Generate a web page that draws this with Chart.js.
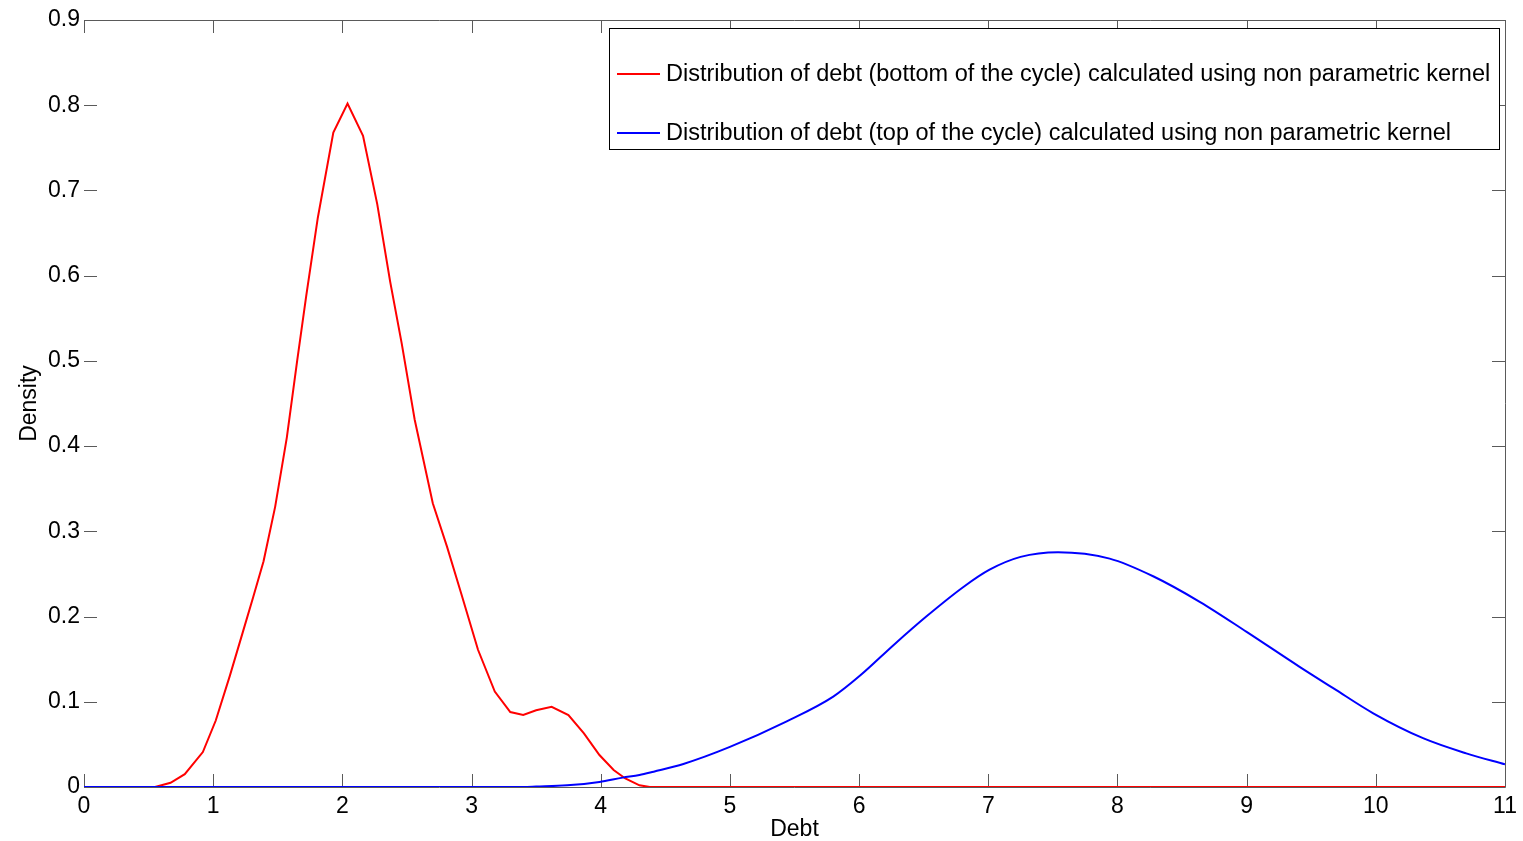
<!DOCTYPE html>
<html>
<head>
<meta charset="utf-8">
<script src="https://cdn.jsdelivr.net/npm/chart.js@4"></script>
<style>
  html, body { margin: 0; padding: 0; background: #fff; }
  canvas { display: block; }
</style>
</head>
<body>
<canvas id="grafico" width="1523" height="841"></canvas>
<script>
// Kernel density estimates of debt, bottom vs top of the cycle
const bottomDebt = [0, 0.55, 0.67, 0.78, 0.92, 1.02, 1.13, 1.23, 1.31, 1.39, 1.48, 1.57, 1.65, 1.72, 1.81, 1.93,
  2.04, 2.16, 2.27, 2.37, 2.46, 2.56, 2.70, 2.81, 2.92, 3.05, 3.18, 3.30, 3.40, 3.50, 3.62, 3.75, 3.87, 3.99,
  4.10, 4.19, 4.30, 4.38, 11];
const bottomDensity = [0, 0, 0.005, 0.015, 0.041, 0.078, 0.131, 0.182, 0.223, 0.265, 0.329, 0.41, 0.50, 0.576, 0.668, 0.768,
  0.802, 0.764, 0.684, 0.593, 0.52, 0.431, 0.333, 0.282, 0.227, 0.161, 0.112, 0.088, 0.0845, 0.090, 0.094, 0.0845, 0.063, 0.0375,
  0.020, 0.010, 0.002, 0, 0];

const topDebt = [0, 3.4, 3.5, 3.74, 3.99, 4.17, 4.30, 4.41, 4.64, 5.0, 5.44, 5.80, 6.01, 6.27, 6.52, 6.81,
  7.01, 7.25, 7.54, 7.94, 8.28, 8.64, 9.0, 9.41, 9.67, 9.98, 10.37, 10.70, 11.0];
const topDensity = [0, 0, 0.0005, 0.002, 0.006, 0.011, 0.014, 0.018, 0.027, 0.047, 0.077, 0.106, 0.131, 0.167, 0.20, 0.235,
  0.255, 0.270, 0.2755, 0.268, 0.247, 0.217, 0.182, 0.141, 0.116, 0.0865, 0.057, 0.0395, 0.0266];

const xTickLabels = ["0", "1", "2", "3", "4", "5", "6", "7", "8", "9", "10", "11"];
const yTickLabels = ["0", "0.1", "0.2", "0.3", "0.4", "0.5", "0.6", "0.7", "0.8", "0.9"];

const seriesNames = [
  "Distribution of debt (bottom of the cycle) calculated using non parametric kernel",
  "Distribution of debt (top of the cycle) calculated using non parametric kernel"
];

const FONTE = "Liberation Sans, Arial, sans-serif";

function pares(xs, ys) {
  return xs.map((x, i) => ({ x: x, y: ys[i] }));
}

// Moldura estilo MATLAB: caixa, ticks para dentro e legenda
const moldura = {
  id: "moldura",
  beforeDatasetsDraw(chart) {
    const { ctx, chartArea: a, scales } = chart;
    const tl = 13;
    ctx.save();
    ctx.strokeStyle = "#5a5a5a";
    ctx.lineWidth = 1;
    ctx.beginPath();
    ctx.moveTo(a.left, a.top + 0.5); ctx.lineTo(a.right + 0.5, a.top + 0.5);
    ctx.moveTo(a.right + 0.5, a.top); ctx.lineTo(a.right + 0.5, a.bottom + 0.5);
    ctx.moveTo(a.left, a.bottom + 0.5); ctx.lineTo(a.right + 0.5, a.bottom + 0.5);
    scales.x.ticks.forEach(t => {
      const px = Math.round(scales.x.getPixelForValue(t.value)) + 0.5;
      ctx.moveTo(px, a.bottom); ctx.lineTo(px, a.bottom - tl);
      ctx.moveTo(px, a.top); ctx.lineTo(px, a.top + tl);
    });
    scales.y.ticks.forEach(t => {
      const py = Math.round(scales.y.getPixelForValue(t.value)) + 0.5;
      ctx.moveTo(a.left, py); ctx.lineTo(a.left + tl, py);
      ctx.moveTo(a.right, py); ctx.lineTo(a.right - tl, py);
    });
    ctx.stroke();
    ctx.restore();
  },
  afterDraw(chart) {
    const { ctx } = chart;
    const caixa = { x: 609, y: 28, w: 890, h: 121 };
    ctx.save();
    ctx.fillStyle = "#fff";
    ctx.fillRect(caixa.x, caixa.y, caixa.w, caixa.h);
    ctx.strokeStyle = "#000";
    ctx.lineWidth = 1;
    ctx.strokeRect(caixa.x + 0.5, caixa.y + 0.5, caixa.w, caixa.h);
    ctx.font = "23.5px " + FONTE;
    ctx.textBaseline = "middle";
    chart.data.datasets.forEach((ds, i) => {
      const y = caixa.y + 46 + i * 59;
      ctx.strokeStyle = ds.borderColor;
      ctx.lineWidth = 2;
      ctx.beginPath();
      ctx.moveTo(caixa.x + 8, y); ctx.lineTo(caixa.x + 51, y);
      ctx.stroke();
      ctx.fillStyle = "#000";
      ctx.fillText(ds.label, caixa.x + 57, y + 1);
    });
    ctx.restore();
  }
};

const ctx = document.getElementById("grafico");
new Chart(ctx, {
  type: "line",
  data: {
    datasets: [
      {
        label: seriesNames[0],
        data: pares(bottomDebt, bottomDensity),
        borderColor: "#ff0000",
        borderWidth: 2,
        pointRadius: 0,
        tension: 0,
        fill: false,
        order: 1
      },
      {
        label: seriesNames[1],
        data: pares(topDebt, topDensity),
        borderColor: "#0000ff",
        borderWidth: 2,
        pointRadius: 0,
        cubicInterpolationMode: "monotone",
        fill: false,
        order: 0
      }
    ]
  },
  options: {
    responsive: false,
    animation: false,
    devicePixelRatio: 1,
    layout: { padding: { top: 20, right: 18, left: 0, bottom: 0 } },
    plugins: { legend: { display: false }, tooltip: { enabled: false } },
    scales: {
      x: {
        type: "linear",
        min: 0,
        max: 11,
        afterFit: s => { s.height = 54; },
        grid: { display: false, drawTicks: false },
        border: { display: false },
        ticks: {
          stepSize: 1,
          padding: 6,
          maxRotation: 0,
          color: "#000",
          font: { family: FONTE, size: 23 },
          callback: (v, i) => xTickLabels[i]
        },
        title: { display: true, text: "Debt", color: "#000", padding: 0, font: { family: FONTE, size: 23, lineHeight: 1.0 } }
      },
      y: {
        type: "linear",
        min: 0,
        max: 0.9,
        afterFit: s => { s.width = 84; },
        grid: { display: false, drawTicks: false },
        border: { display: false },
        ticks: {
          stepSize: 0.1,
          padding: 4,
          color: "#000",
          font: { family: FONTE, size: 23 },
          callback: (v, i) => yTickLabels[i]
        },
        title: { display: true, text: "Density", color: "#000", padding: { top: 16, bottom: 0 }, font: { family: FONTE, size: 23 } }
      }
    }
  },
  plugins: [moldura]
});
</script>
</body>
</html>
